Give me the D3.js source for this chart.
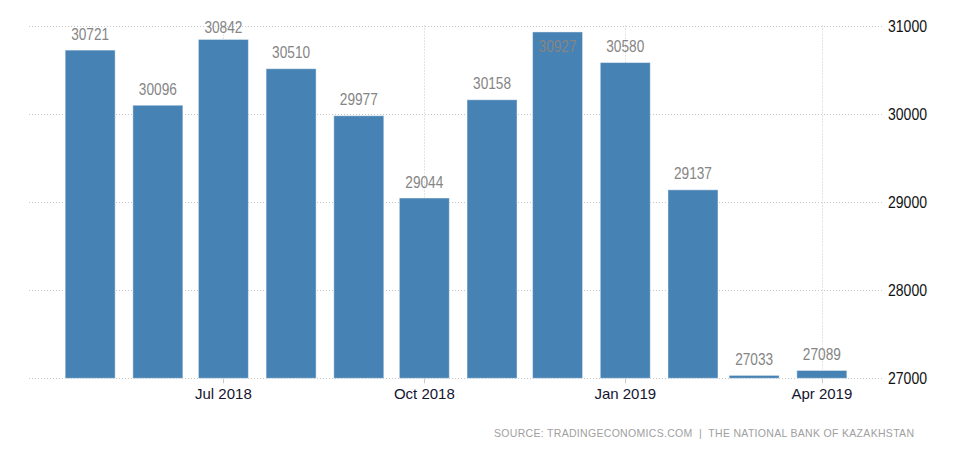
<!DOCTYPE html>
<html>
<head>
<meta charset="utf-8">
<script src="https://cdn.jsdelivr.net/npm/d3@7"></script>
<style>
  html, body { margin: 0; padding: 0; background: #fff; }
  svg { display: block; }
</style>
</head>
<body>
<svg id="chart" width="974" height="452"></svg>
<script>
// ---- data ----
const months = ["2018-05-01","2018-06-01","2018-07-01","2018-08-01","2018-09-01","2018-10-01",
                "2018-11-01","2018-12-01","2019-01-01","2019-02-01","2019-03-01","2019-04-01"];
const values = [30721, 30096, 30842, 30510, 29977, 29044, 30158, 30927, 30580, 29137, 27033, 27089];
const yTicks = [27000, 28000, 29000, 30000, 31000];
const xTickDates = ["2018-07-01","2018-10-01","2019-01-01","2019-04-01"];
const xTickLabels = ["Jul 2018","Oct 2018","Jan 2019","Apr 2019"];
const sourceText = "SOURCE: TRADINGECONOMICS.COM  |  THE NATIONAL BANK OF KAZAKHSTAN";

// ---- layout ----
const plotLeft = 29, plotRight = 883, plotTop = 25.5, plotBottom = 378.3;
const parse = d3.utcParse("%Y-%m-%d");
const dates = months.map(parse);
const data = dates.map((d, i) => ({date: d, value: values[i]}));

const x = d3.scaleUtc()
  .domain([d3.utcDay.offset(dates[0], -28), d3.utcDay.offset(dates[dates.length - 1], 28)])
  .range([plotLeft, plotRight]);
const y = d3.scaleLinear().domain([27000, 31000]).range([plotBottom, plotTop]);

const svg = d3.select("#chart");

// horizontal grid
svg.append("g").selectAll("line").data(yTicks).join("line")
  .attr("x1", plotLeft).attr("x2", plotRight)
  .attr("y1", d => Math.round(y(d)) + 0.5).attr("y2", d => Math.round(y(d)) + 0.5)
  .attr("stroke", "#c8c8c8").attr("stroke-width", 1).attr("stroke-dasharray", "1,2");

// vertical grid + ticks
const xt = xTickDates.map(parse);
svg.append("g").selectAll("line").data(xt).join("line")
  .attr("x1", d => Math.round(x(d)) + 0.5).attr("x2", d => Math.round(x(d)) + 0.5)
  .attr("y1", plotTop).attr("y2", plotBottom)
  .attr("stroke", "#c8c8c8").attr("stroke-width", 1).attr("stroke-dasharray", "1,2");
svg.append("g").selectAll("line").data(xt).join("line")
  .attr("x1", d => Math.round(x(d)) + 0.5).attr("x2", d => Math.round(x(d)) + 0.5)
  .attr("y1", plotBottom).attr("y2", plotBottom + 5)
  .attr("stroke", "#c8c8c8").attr("stroke-width", 1);

// bars
const bw = 50;
svg.append("g").selectAll("rect").data(data).join("rect")
  .attr("x", d => x(d.date) - bw / 2)
  .attr("y", d => y(d.value))
  .attr("width", bw)
  .attr("height", d => y(27000) - y(d.value))
  .attr("fill", "#4682b4")
  .attr("stroke", "rgba(255,255,255,0.45)")
  .attr("stroke-width", 1);

// value labels
const minBase = 33.3;
svg.append("g").selectAll("text").data(data).join("text")
  .attr("x", d => x(d.date))
  .attr("y", d => {
    const t = y(d.value);
    let b = t - 10.5;
    if (b < minBase) {
      b = (minBase > t) ? t + 20 : minBase;
    }
    return b;
  })
  .attr("text-anchor", "middle")
  .attr("font-family", "'Liberation Sans', Arial, sans-serif")
  .attr("font-size", "16px")
  .attr("fill", "#858585")
  .attr("textLength", d => String(d.value).length * 7.6)
  .attr("lengthAdjust", "spacingAndGlyphs")
  .text(d => d.value);

// y tick labels (right)
svg.append("g").selectAll("text").data(yTicks).join("text")
  .attr("x", 888)
  .attr("y", d => y(d))
  .attr("dy", "0.36em")
  .attr("font-family", "'Liberation Sans', Arial, sans-serif")
  .attr("font-size", "17px")
  .attr("fill", "#111")
  .attr("textLength", d => String(d).length * 7.8)
  .attr("lengthAdjust", "spacingAndGlyphs")
  .text(d => d);

// x tick labels
svg.append("g").selectAll("text").data(xt).join("text")
  .attr("x", d => x(d))
  .attr("y", 399)
  .attr("text-anchor", "middle")
  .attr("font-family", "'Liberation Sans', Arial, sans-serif")
  .attr("font-size", "15px")
  .attr("fill", "#151530")
  .text((d, i) => xTickLabels[i]);

// source
svg.append("text")
  .attr("x", 914).attr("y", 437)
  .attr("text-anchor", "end")
  .attr("font-family", "'Liberation Sans', Arial, sans-serif")
  .attr("font-size", "10.5px")
  .attr("fill", "#a0a0a0")
  .attr("textLength", 420)
  .attr("lengthAdjust", "spacing")
  .style("white-space", "pre")
  .text(sourceText);
</script>
</body>
</html>
